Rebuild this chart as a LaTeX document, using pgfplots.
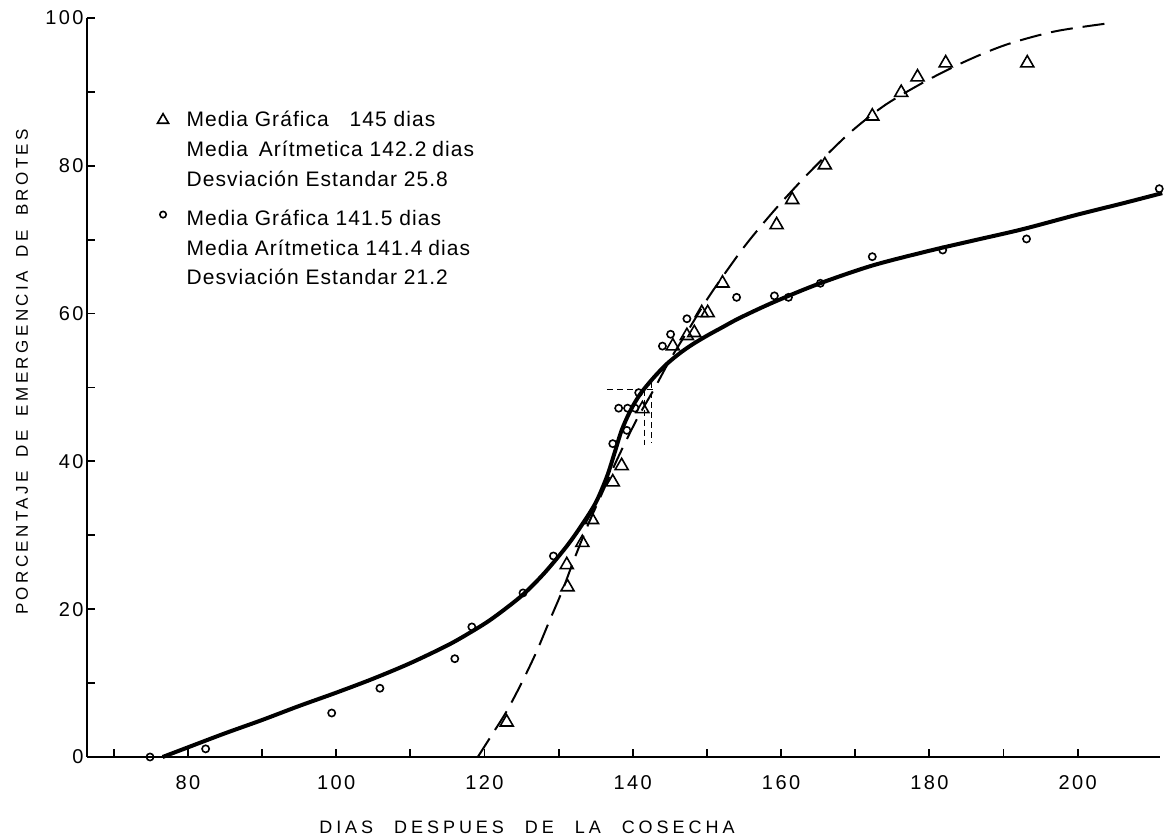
\documentclass[border=0pt]{standalone}
\usepackage{fontspec}
\setmainfont{Liberation Sans}
\usepackage{pgfplots}
\pgfplotsset{compat=1.18}
\newcommand\gap{\hspace*{8pt}}
\begin{document}
\begin{tikzpicture}
\begin{axis}[
  name=ax,
  scale only axis, width=536.5pt, height=369.5pt,
  xmin=66.4, xmax=211.1, ymin=0, ymax=100,
  axis lines*=left, axis line style={line width=1.3pt},
  clip=false,
  xtick={80,100,...,200}, minor xtick={70,90,...,190},
  ytick={0,20,...,100}, minor ytick={10,30,...,90},
  tick align=inside, major tick length=4pt, minor tick length=4pt,
  every tick/.style={line width=0.9pt, black},
  minor tick style={line width=0.9pt, black},
  /pgf/number format/assume math mode=true,
  tick label style={font=\fontsize{10}{12}\selectfont\addfontfeatures{LetterSpace=12}},
  xticklabel style={yshift=-5.5pt},
  yticklabel style={inner sep=1.5pt},
  xlabel={DIAS\hspace{6pt} DESPUES\hspace{6pt} DE\hspace{6pt} LA\hspace{6pt} COSECHA},
  xlabel style={at={(rel axis cs:0.41,0)}, anchor=center, yshift=-35pt,
    font=\fontsize{9}{11}\selectfont\addfontfeatures{LetterSpace=22}},
  ylabel={PORCENTAJE\hspace{3pt} DE\hspace{3pt} EMERGENCIA\hspace{3pt} DE\hspace{3pt} BROTES},
  ylabel style={at={(rel axis cs:-0.0606,0.521)}, anchor=center,
    font=\fontsize{8.5}{10}\selectfont\addfontfeatures{LetterSpace=20}},
  legend style={draw=none, fill=none, at={(axis cs:74.3,88.0)}, anchor=north west,
    font=\fontsize{10.5}{12}\selectfont\addfontfeatures{LetterSpace=5},
    row sep=2pt, inner sep=0pt,
    nodes={inner sep=1pt, text height=8.5pt, text depth=2.5pt}},
  legend cell align=left,
]
\addlegendimage{only marks, mark=triangle, mark size=3.2pt, line width=0.8pt}
\addlegendentry{\gap Media Gráfica\hspace{7pt} 145 dias}
\addlegendimage{empty legend}
\addlegendentry{\gap Media\hspace{2pt} Arítmetica 142.2\hspace{3pt}dias}
\addlegendimage{empty legend}
\addlegendentry{\gap Desviación Estandar 25.8}
\addlegendimage{only marks, mark=o, mark size=1.6pt, line width=0.8pt}
\addlegendentry[text height=13pt]{\gap Media Gráfica 141.5 dias}
\addlegendimage{empty legend}
\addlegendentry{\gap Media Arítmetica 141.4\hspace{3pt}dias}
\addlegendimage{empty legend}
\addlegendentry[text height=8pt]{\gap Desviación Estandar 21.2}

% solid fitted curve (circles)
\addplot[forget plot, smooth, line width=2pt] coordinates {
(76.6,0) (80,1.3) (85,3.2) (90,5.0) (95,6.9) (100,8.7) (105,10.6) (110,12.7)
(115,15.1) (118,16.8) (121,18.7) (125,21.8) (128,24.8) (131,28.4) (133,31.2)
(135,34.4) (136.5,37.9) (137.5,41) (138.5,44.2) (139.7,46.9) (141,49.1)
(142.7,51.2) (144.5,53.1) (146.3,54.6) (148,55.8) (150,57) (152,58.1)
(154.4,59.4) (158.9,61.5) (165,64) (172.3,66.5) (180,68.5) (186,69.9)
(192.5,71.4) (200,73.4) (206,74.9) (211.4,76.3)};

% dashed fitted curve (triangles)
\addplot[forget plot, smooth, line width=1pt, dash pattern=on 11pt off 5pt] coordinates {
(119.1,0) (121,3) (123,6.2) (125,10) (127,14.2) (128.8,18.5) (130.5,22.5)
(132,26.5) (134,31.5) (136,36) (138,40.5) (140.5,45.6) (143,50) (145,53.7)
(147.5,57.8) (150.4,62.5) (154.4,68.2) (157,71.5) (160,75) (164,79.3)
(169.2,84.4) (174,88.2) (179.6,91.5) (185,94.2) (190.4,96.4) (197,98.2) (204.3,99.3)};

% graphic mean guide lines
\addplot[forget plot, line width=0.6pt, dash pattern=on 3pt off 2pt] coordinates {(136.5,49.7) (143,49.7)};
\addplot[forget plot, line width=0.6pt, dash pattern=on 3pt off 2pt] coordinates {(141.6,49.7) (141.6,42.2)};
\addplot[forget plot, line width=0.6pt, dash pattern=on 3pt off 2pt] coordinates {(142.5,50.7) (142.5,42.5)};

% triangles
\addplot[forget plot, only marks, mark=triangle, mark size=3.75pt, line width=0.8pt] coordinates {
(123,4.7) (131.2,23) (131.1,26) (133.2,29) (134.5,32.1) (137.3,37.2) (138.5,39.4)
(141.3,47.1) (145.4,55.6) (147.3,57) (148.3,57.4) (149.3,60.1) (150.1,60.1)
(152.1,64.1) (159.4,72) (161.5,75.4) (165.9,80.1) (172.3,86.7) (176.2,89.9)
(178.4,92) (182.2,93.9) (193.2,93.9)};

% circles
\addplot[forget plot, only marks, mark=o, mark size=1.8pt, line width=0.8pt] coordinates {
(74.9,0) (82.4,1.1) (99.4,5.95) (105.9,9.3) (116,13.3) (118.3,17.6) (125.2,22.2)
(129.3,27.2) (137.3,42.4) (139.2,44.2) (138.1,47.2) (139.3,47.2) (140.3,47.2)
(140.8,49.3) (144,55.6) (145.1,57.2) (147.3,59.3) (154,62.2) (159.1,62.4)
(161,62.2) (165.3,64.1) (172.3,67.7) (181.8,68.6) (193.1,70.1) (211,76.9)};

\coordinate (sw) at (rel axis cs:0,0);
\coordinate (ne) at (rel axis cs:1,1);
\end{axis}
\pgfresetboundingbox
\path ([shift={(-43.5pt,-40.5pt)}]sw) rectangle ([shift={(6.5pt,9pt)}]ne);
\end{tikzpicture}
\end{document}
